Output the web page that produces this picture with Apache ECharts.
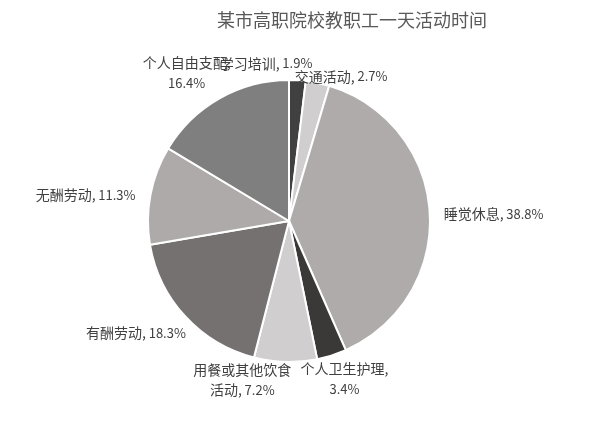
<!DOCTYPE html>
<html>
<head>
<meta charset="utf-8">
<script src="https://cdn.jsdelivr.net/npm/echarts@6/dist/echarts.min.js"></script>
<style>
  html, body { margin: 0; padding: 0; background: #fff; }
  #main { width: 596px; height: 422px; }
</style>
</head>
<body>
<div id="main"></div>
<script>
// 活动类别（从12点方向顺时针）
var activities = ['学习培训', '交通活动', '睡觉休息', '个人卫生护理', '用餐或其他饮食活动', '有酬劳动', '无酬劳动', '个人自由支配'];
// 占比 %
var percents = [1.9, 2.7, 38.8, 3.4, 7.2, 18.3, 11.3, 16.4];
// 扇区颜色
var sliceColors = ['#404040', '#d0cece', '#afabab', '#3b3838', '#d0cece', '#767171', '#aeaaaa', '#7f7f7f'];
// 标签换行：'comma' 逗号后换行，数字为名称中换行位置
var labelBreaks = ['', '', '', 'comma', 7, '', '', 'comma'];
// 标签微调 [dx, dy]，模仿 Excel 的标签摆放
var labelNudges = [[-83, -11], [-62, -14], [8, 2], [-38, 18], [11, 12], [10, 12], [-4, 1], [19, -20]];

var chart = echarts.init(document.getElementById('main'));

function makeLabel(params) {
    var i = params.dataIndex;
    var name = activities[i];
    var pct = '{v|' + percents[i].toFixed(1) + '%}';
    var brk = labelBreaks[i];
    if (brk === 'comma') {
        return '{n|' + name + ',}\n' + pct;
    }
    if (typeof brk === 'number') {
        return '{n|' + name.slice(0, brk) + '}\n{n|' + name.slice(brk) + ',} ' + pct;
    }
    return '{n|' + name + ',} ' + pct;
}

var data = [];
for (var i = 0; i < activities.length; i++) {
    data.push({
        name: activities[i],
        value: percents[i],
        itemStyle: {color: sliceColors[i]}
    });
}

var option = {
    backgroundColor: '#ffffff',
    animation: false,
    title: {
        text: '某市高职院校教职工一天活动时间',
        left: 347,
        top: 6,
        textAlign: 'center',
        textStyle: {
            fontFamily: 'Noto Sans CJK SC',
            fontSize: 18,
            fontWeight: 'normal',
            color: '#595959'
        }
    },
    series: [{
        type: 'pie',
        center: [289, 221],
        radius: 141,
        startAngle: 90,
        clockwise: true,
        data: data,
        itemStyle: {
            borderColor: '#ffffff',
            borderWidth: 2
        },
        label: {
            show: true,
            position: 'outside',
            formatter: makeLabel,
            fontFamily: 'Noto Sans CJK SC',
            color: '#404040',
            rich: {
                n: {fontFamily: 'Noto Sans CJK SC', fontSize: 14, color: '#404040', lineHeight: 20, align: 'center'},
                v: {fontFamily: 'Noto Sans CJK SC', fontSize: 13, color: '#404040', lineHeight: 20, align: 'center'}
            }
        },
        labelLine: {
            show: false,
            length: 6,
            length2: 0
        },
        labelLayout: function (params) {
            var nudge = labelNudges[params.dataIndex];
            return {dx: nudge[0], dy: nudge[1]};
        }
    }]
};

chart.setOption(option);
</script>
</body>
</html>
